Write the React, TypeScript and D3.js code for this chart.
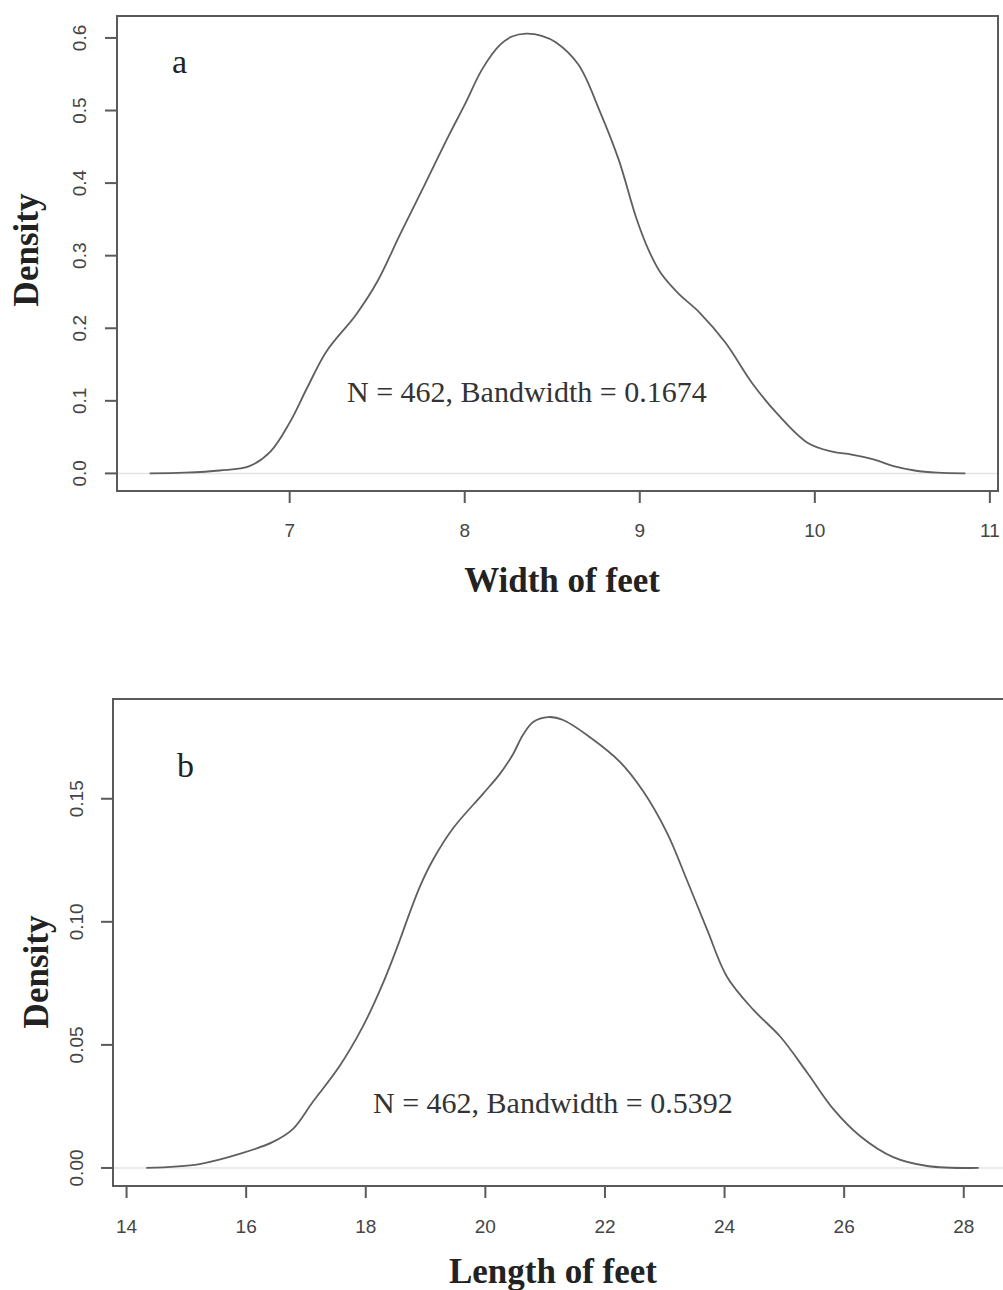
import * as d3 from "d3";

// panel a: width of feet
const widthX = [6.2, 6.4, 6.6, 6.77, 6.89, 7.0, 7.1, 7.21, 7.38, 7.5, 7.63, 7.78, 7.91, 8.0, 8.1, 8.2, 8.27, 8.35, 8.44, 8.52, 8.65, 8.77, 8.88, 8.98, 9.05, 9.12, 9.22, 9.34, 9.49, 9.64, 9.79, 9.96, 10.1, 10.21, 10.34, 10.45, 10.57, 10.7, 10.86];
const widthDensity = [0.0, 0.001, 0.004, 0.01, 0.03, 0.07, 0.118, 0.168, 0.219, 0.264, 0.329, 0.402, 0.466, 0.508, 0.557, 0.59, 0.602, 0.606, 0.603, 0.594, 0.563, 0.5, 0.432, 0.352, 0.308, 0.276, 0.248, 0.222, 0.18, 0.125, 0.081, 0.042, 0.03, 0.026, 0.019, 0.01, 0.004, 0.001, 0.0];
const widthTicksX = [7, 8, 9, 10, 11];
const widthTicksY = [0, 0.1, 0.2, 0.3, 0.4, 0.5, 0.6];

// panel b: length of feet
const lengthX = [14.33, 15.22, 15.89, 16.44, 16.78, 17.11, 17.56, 17.95, 18.29, 18.57, 18.69, 18.9, 19.12, 19.46, 19.96, 20.24, 20.46, 20.63, 20.8, 21.05, 21.3, 21.75, 22.25, 22.64, 23.04, 23.37, 23.71, 24.04, 24.48, 24.93, 25.38, 25.82, 26.27, 26.82, 27.39, 28.25];
const lengthDensity = [0.0, 0.0016, 0.0057, 0.0105, 0.0158, 0.0267, 0.0413, 0.0574, 0.0752, 0.0926, 0.1007, 0.114, 0.125, 0.138, 0.152, 0.16, 0.168, 0.176, 0.1812, 0.1832, 0.182, 0.175, 0.165, 0.153, 0.136, 0.117, 0.0967, 0.0777, 0.0643, 0.0534, 0.0388, 0.0239, 0.0129, 0.0044, 0.0008, 0.0];
const lengthTicksX = [14, 16, 18, 20, 22, 24, 26, 28];
const lengthTicksY = [0, 0.05, 0.1, 0.15];

const SERIF = "'Liberation Serif', 'Times New Roman', serif";
const SANS = "'Liberation Sans', Arial, sans-serif";
const INK = "#5a5a5a";

const Panel = ({ xs, ys, xTicks, yTicks, yFmt, box, lay, letter, note, xTitle }) => {
  const xr = d3.max(xs) - d3.min(xs);
  const ymax = d3.max(ys);
  const x = d3
    .scaleLinear()
    .domain([d3.min(xs) - 0.04 * xr, d3.max(xs) + 0.04 * xr])
    .range([box.left, box.right]);
  const y = d3
    .scaleLinear()
    .domain([-0.04 * ymax, 1.04 * ymax])
    .range([box.bottom, box.top]);

  const line = d3
    .line()
    .x((d) => x(d[0]))
    .y((d) => y(d[1]))
    .curve(d3.curveCatmullRom.alpha(0.5));
  const pts = xs.map((v, i) => [v, ys[i]]);

  return (
    <g>
      {/* zero line */}
      <line x1={box.left} x2={box.right} y1={y(0)} y2={y(0)} stroke="#e4e4e4" strokeWidth={1.5} />
      <path d={line(pts)} fill="none" stroke="#5f5f5f" strokeWidth={1.8} />
      <rect
        x={box.left}
        y={box.top}
        width={box.right - box.left}
        height={box.bottom - box.top}
        fill="none"
        stroke={INK}
        strokeWidth={2}
      />
      {yTicks.map((t) => (
        <g key={"y" + t}>
          <line x1={box.left - 12} x2={box.left} y1={y(t)} y2={y(t)} stroke={INK} strokeWidth={2} />
          <text
            transform={`translate(${lay.yLabX},${y(t)}) rotate(-90)`}
            textAnchor="middle"
            fontFamily={SANS}
            fontSize={19}
            fill="#444"
          >
            {yFmt(t)}
          </text>
        </g>
      ))}
      {xTicks.map((t) => (
        <g key={"x" + t}>
          <line x1={x(t)} x2={x(t)} y1={box.bottom} y2={box.bottom + 12} stroke={INK} strokeWidth={2} />
          <text x={x(t)} y={lay.xLabY} textAnchor="middle" fontFamily={SANS} fontSize={19} fill="#444">
            {t}
          </text>
        </g>
      ))}
      <text
        transform={`translate(${lay.yTitleX},${lay.yTitleY}) rotate(-90)`}
        textAnchor="middle"
        fontFamily={SERIF}
        fontWeight="bold"
        fontSize={35}
        fill="#222"
      >
        Density
      </text>
      <text x={lay.xTitleX} y={lay.xTitleY} textAnchor="middle" fontFamily={SERIF} fontWeight="bold" fontSize={35} fill="#222">
        {xTitle}
      </text>
      <text x={lay.letterX} y={lay.letterY} fontFamily={SERIF} fontSize={34} fill="#222">
        {letter}
      </text>
      <text x={lay.noteX} y={lay.noteY} fontFamily={SERIF} fontSize={30} fill="#333">
        {note}
      </text>
    </g>
  );
};

export default function App() {
  return (
    <svg
      width={1003}
      height={1290}
      style={{ position: "absolute", left: 0, top: 0, background: "#fff" }}
    >
      <rect width={1003} height={1290} fill="#fff" />
      <Panel
        xs={widthX}
        ys={widthDensity}
        xTicks={widthTicksX}
        yTicks={widthTicksY}
        yFmt={d3.format(".1f")}
        box={{ left: 117, right: 998, top: 16, bottom: 491 }}
        lay={{
          yLabX: 86,
          xLabY: 537,
          yTitleX: 38,
          yTitleY: 250,
          xTitleX: 562,
          xTitleY: 592,
          letterX: 172,
          letterY: 73,
          noteX: 347,
          noteY: 402,
        }}
        letter="a"
        note="N = 462, Bandwidth = 0.1674"
        xTitle="Width of feet"
      />
      <Panel
        xs={lengthX}
        ys={lengthDensity}
        xTicks={lengthTicksX}
        yTicks={lengthTicksY}
        yFmt={d3.format(".2f")}
        box={{ left: 113, right: 1012, top: 699, bottom: 1186 }}
        lay={{
          yLabX: 83,
          xLabY: 1233,
          yTitleX: 48,
          yTitleY: 972,
          xTitleX: 553,
          xTitleY: 1283,
          letterX: 177,
          letterY: 777,
          noteX: 373,
          noteY: 1113,
        }}
        letter="b"
        note="N = 462, Bandwidth = 0.5392"
        xTitle="Length of feet"
      />
    </svg>
  );
}
